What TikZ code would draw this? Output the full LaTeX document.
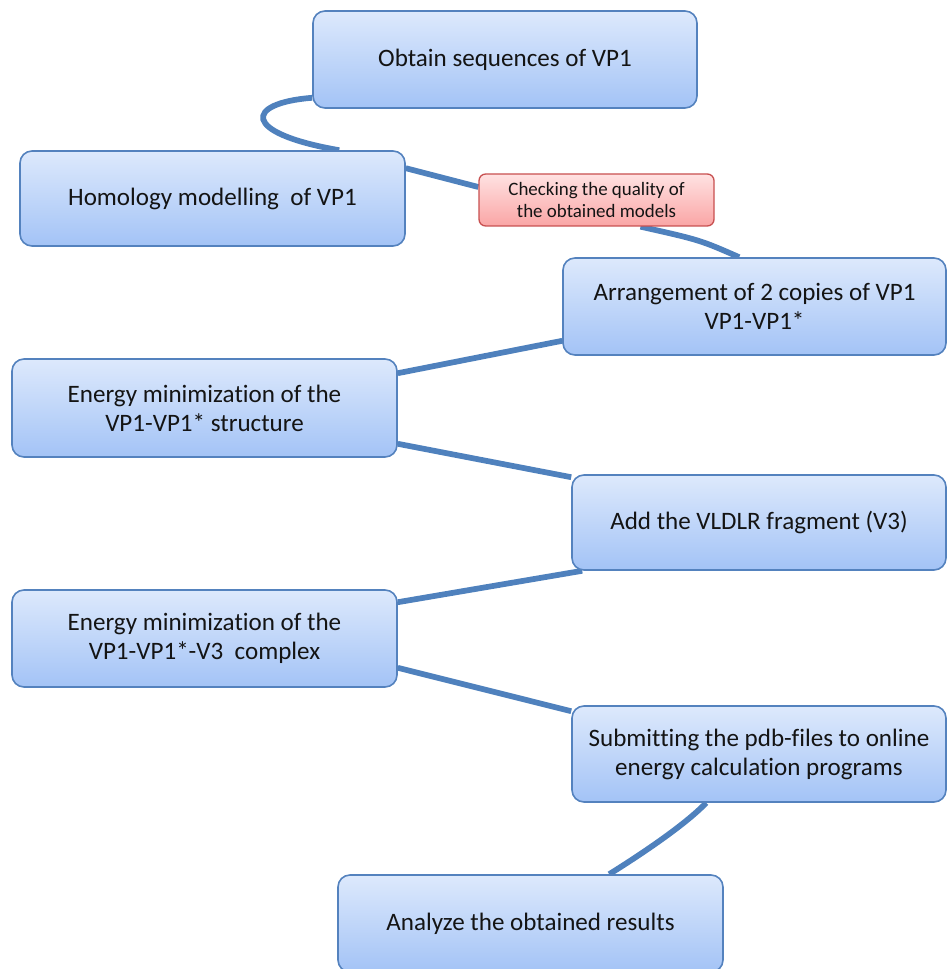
\documentclass[tikz,border=0pt]{standalone}
\usepackage{fontspec}
\setmainfont{Carlito}[Ligatures=NoCommon]
\usetikzlibrary{calc,backgrounds}
\definecolor{boxtop}{RGB}{221,233,252}
\definecolor{boxbot}{RGB}{163,195,246}
\definecolor{boxline}{RGB}{84,130,190}
\definecolor{redtop}{RGB}{255,226,226}
\definecolor{redbot}{RGB}{250,165,165}
\definecolor{redline}{RGB}{200,80,80}
\definecolor{conn}{RGB}{79,129,189}
\definecolor{txt}{RGB}{20,20,20}
\tikzset{
  bluebox/.style={draw=boxline, line width=1.2pt, top color=boxtop, bottom color=boxbot,
    rounded corners=9pt, inner sep=0pt, align=center, text=txt,
    font=\fontsize{18.8pt}{21.75pt}\selectfont},
  redbox/.style={draw=redline, line width=1pt, top color=redtop, bottom color=redbot,
    rounded corners=5pt, inner sep=0pt, align=center, text=txt,
    font=\fontsize{14.2pt}{17pt}\selectfont},
  link/.style={draw=conn, line width=4.3pt}
}
\begin{document}
\begin{tikzpicture}[x=0.75pt,y=-0.75pt]
\useasboundingbox (0,0) rectangle (947,969);
\node[bluebox, minimum width=288pt, minimum height=72.75pt] (b1) at (505,59.5) {Obtain sequences of VP1};
\node[bluebox, minimum width=288.75pt, minimum height=71.25pt] (b2) at (212.5,198.5) {Homology modelling\ \ of VP1};
\node[redbox, minimum width=176.25pt, minimum height=39pt] (rq) at (596.5,200) {Checking the quality of\\the obtained models};
\node[bluebox, minimum width=287.25pt, minimum height=72.75pt] (b4) at (754.5,306.5) {Arrangement of 2 copies of VP1\\VP1-VP1*};
\node[bluebox, minimum width=288.75pt, minimum height=73.5pt] (b5) at (204.5,408) {Energy minimization of the\\VP1-VP1* structure};
\node[bluebox, minimum width=280.5pt, minimum height=71.25pt] (b6) at (759,522.5) {Add the VLDLR fragment (V3)};
\node[bluebox, minimum width=288.75pt, minimum height=72.75pt] (b7) at (204.5,638.5) {Energy minimization of the\\VP1-VP1*-V3\ \ complex};
\node[bluebox, minimum width=280.5pt, minimum height=72pt] (b8) at (759,754) {Submitting the pdb-files to online\\energy calculation programs};
\node[bluebox, minimum width=288.75pt, minimum height=72.75pt] (b9) at (530.5,923.5) {Analyze the obtained results};
\begin{scope}[on background layer]
\draw[link] ($(b1.south west)+(0,-11)$) .. controls (245,103) and (240,133) .. ($(b2.north west)+(320,0)$);
\draw[link] ($(b2.north east)+(0,18)$) -- ($(rq.west)+(0,-13)$);
\draw[link] ($(rq.south)+(44,0)$) .. controls (700,240) .. ($(b4.north west)+(177,0)$);
\draw[link] ($(b4.south west)+(0,-15)$) -- ($(b5.north east)+(0,15)$);
\draw[link] ($(b5.south east)+(0,-14)$) -- ($(b6.north west)+(0,3)$);
\draw[link] ($(b6.south west)+(11,0)$) -- ($(b7.north east)+(0,13)$);
\draw[link] ($(b7.south east)+(0,-20)$) -- ($(b8.north west)+(0,6)$);
\draw[link] ($(b8.south west)+(135,0)$) .. controls (685,825) and (640,855) .. ($(b9.north west)+(272,0)$);
\end{scope}
\end{tikzpicture}
\end{document}
